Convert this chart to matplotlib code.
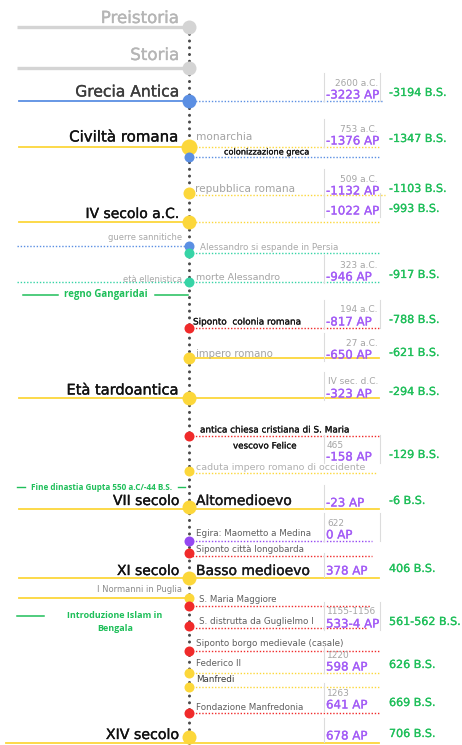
import matplotlib
matplotlib.use("Agg")
import matplotlib.pyplot as plt
import matplotlib.patheffects as pe

# ---------------- data ----------------
node_kind = ["pre", "pre", "greek", "roman", "greek", "roman", "roman", "greek",
             "hellenic", "hellenic", "siponto", "roman", "roman", "siponto", "roman",
             "roman", "islam", "siponto", "roman", "roman", "siponto", "siponto",
             "siponto", "roman", "roman", "siponto", "roman"]
left_labels = ["Preistoria", "Storia", "Grecia Antica", "Civiltà romana", "", "",
               "IV secolo a.C.", "guerre sannitiche", "", "età ellenistica", "", "",
               "Età tardoantica", "", "", "VII secolo", "", "", "XI secolo",
               "I Normanni in Puglia", "", "", "", "", "", "", "XIV secolo"]
right_labels = ["", "", "", "monarchia", "colonizzazione greca", "repubblica romana", "",
                "", "Alessandro si espande in Persia", "morte Alessandro",
                "Siponto  colonia romana", "impero romano", "",
                "antica chiesa cristiana di S. Maria", "caduta impero romano di occidente",
                "Altomedioevo", "Egira: Maometto a Medina", "Siponto città longobarda",
                "Basso medioevo", "", "S. Maria Maggiore", "S. distrutta da Guglielmo I",
                "Siponto borgo medievale (casale)", "Federico II", "Manfredi",
                "Fondazione Manfredonia", ""]
extra_labels = ["vescovo Felice"]

box_date = ["2600 a.C.", "753 a.C.", "509 a.C.", "", "323 a.C.", "194 a.C.", "27 a.C.",
            "IV sec. d.C.", "465", "", "622", "", "1155-1156", "1220", "1263", ""]
box_ap = ["-3223 AP", "-1376 AP", "-1132 AP", "-1022 AP", "-946 AP", "-817 AP", "-650 AP",
          "-323 AP", "-158 AP", "-23 AP", "0 AP", "378 AP", "533-4 AP", "598 AP",
          "641 AP", "678 AP"]
box_bs = ["-3194 B.S.", "-1347 B.S.", "-1103 B.S.", "-993 B.S.", "-917 B.S.", "-788 B.S.",
          "-621 B.S.", "-294 B.S.", "-129 B.S.", "-6 B.S.", "", "406 B.S.", "561-562 B.S.",
          "626 B.S.", "669 B.S.", "706 B.S."]

india_notes = ["regno Gangaridai", "Fine dinastia Gupta 550 a.C/-44 B.S.",
               "Introduzione Islam in\nBengala"]

# ---------------- layout / style ----------------
W, H = 462, 745
node_y = [27, 68, 101, 147, 157, 193, 222, 246, 253, 282, 328, 358, 398, 436, 471,
          507, 541, 553, 578, 598, 606, 626, 651, 673, 687, 713, 737]
left_label_y = [18, 55, 92, 137, None, None, 214, 238, None, 279, None, None, 390, None,
                None, 501, None, None, 571, 590, None, None, None, None, None, None, 735]
right_label_y = [None, None, None, 137, 152, 189, None, None, 247, 277, 322, 354, None,
                 430, 468, 501, 534, 550, 571, None, 599, 621, 644, 664, 680, 707, None]
node_tier = ["big", "big", "big", "xl", "small", "mid", "big", "small", "small", "small",
             "small", "mid", "big", "small", "small", "big", "small", "small", "big",
             "small", "small", "small", "small", "small", "small", "small", "big"]
left_line = ["thick", "thick", "solid", "solid", None, None, "solid", "dot", None, "dot",
             None, None, "solid", None, None, "solid", None, None, "solid", "solid",
             None, None, None, None, None, None, "solid"]
right_line = [None, None, "dot", "dot", "dot", "dot", "dot", None, "dot", "dot", "dot",
              "solid", "solid", "dot", "dot", "solid", "dot", "dot", "solid", None,
              "dot", "dot", "dot", "dot", "dot", "dot", "solid"]
# label style: (fontsize, colour, heavier?)
right_style = [None, None, None, (7.6, "#a3a3a3", 0), (5.9, "#151515", 1),
               (7.6, "#a3a3a3", 0), None, None, (6.3, "#a8a8a8", 0), (6.8, "#a3a3a3", 0),
               (6.4, "#151515", 1), (7.3, "#a3a3a3", 0), None, (6.4, "#151515", 1),
               (6.8, "#b0b0b0", 0), (10.0, "#1a1a1a", 1), (6.3, "#5f5f5f", 0),
               (6.3, "#5f5f5f", 0), (10.0, "#1a1a1a", 1), None, (6.2, "#5f5f5f", 0),
               (6.3, "#5f5f5f", 0), (6.3, "#5f5f5f", 0), (6.3, "#5f5f5f", 0),
               (6.3, "#3a3a3a", 0), (6.3, "#5f5f5f", 0), None]
left_style = [(12.0, "#b5b5b5", 1), (12.0, "#b5b5b5", 1), (11.2, "#3c3c3c", 1),
              (10.8, "#111111", 1), None, None, (10.0, "#111111", 1), (6.0, "#a8a8a8", 0),
              None, (6.0, "#a8a8a8", 0), None, None, (10.5, "#111111", 1), None, None,
              (10.0, "#111111", 1), None, None, (10.0, "#111111", 1), (6.0, "#8a8a8a", 0),
              None, None, None, None, None, None, (10.2, "#111111", 1)]
line_shift = {15: 2, 26: 6, 5: 2, 14: 2, 17: 3, 21: 2}
right_end = {2: 383, 5: 385, 16: 372, 17: 372, 20: 371, 21: 366, 14: 376}
left_start = {26: 6}
right_label_x = {4: 224, 8: 200, 13: 200, 10: 193, 20: 199, 21: 199, 5: 195}

box_y = [95, 141, 191, 211, 277, 322, 355, 394, 457, 503, 535, 571, 624, 667, 705, 736]
box_right = [True, False, False, True, False, True, False, False, True, False, True,
             False, True, False, False, False]
extra_pos = [(233, 446)]

colors = {"pre": "#d4d4d4", "greek": "#5b8fe3", "roman": "#fcd73a", "hellenic": "#36d4a6",
          "siponto": "#f02a2a", "islam": "#9548f2"}
size_px = {"xl": 16, "big": 14, "mid": 12, "small": 10}
SPINE_X = 189
FONT = "DejaVu Sans"
GREEN = "#1fbf5a"
PURPLE = "#a35cf6"


def heavy(col, w=0.25):
    return [pe.withStroke(linewidth=w, foreground=col)]


fig = plt.figure(figsize=(W / 100, H / 100), dpi=100)
ax = fig.add_axes([0, 0, 1, 1])
ax.set_xlim(0, W)
ax.set_ylim(H, 0)
ax.axis("off")

# spine
ax.plot([SPINE_X, SPINE_X], [node_y[0], H], color="#4a4a4a", lw=2.2,
        linestyle=(0, (0.01, 2.2)), dash_capstyle="round", zorder=1)

for i, y in enumerate(node_y):
    c = colors[node_kind[i]]
    ly = y + line_shift.get(i, 0)
    if left_line[i] == "thick":
        ax.plot([17, SPINE_X], [ly, ly], color=c, lw=2.4, solid_capstyle="butt", zorder=2)
    elif left_line[i] == "solid":
        ax.plot([left_start.get(i, 19), SPINE_X], [ly, ly], color=c, lw=1.3, zorder=2)
    elif left_line[i] == "dot":
        ax.plot([17, SPINE_X], [ly, ly], color=c, lw=1.0, linestyle=(0, (1, 1.3)), zorder=2)
    xe = right_end.get(i, 379)
    if right_line[i] == "solid":
        ax.plot([SPINE_X, xe], [ly, ly], color=c, lw=1.3, zorder=2)
    elif right_line[i] == "dot":
        ax.plot([SPINE_X, xe], [ly, ly], color=c, lw=1.0, linestyle=(0, (1, 1.3)), zorder=2)
    ax.plot(SPINE_X, y, "o", ms=size_px[node_tier[i]] * 0.72, color=c, mec="none", zorder=4)

    if left_labels[i]:
        fs, col, hv = left_style[i]
        ax.text(179 if fs > 9 else 182, left_label_y[i], left_labels[i],
                ha="right", va="center", fontsize=fs, color=col, family=FONT,
                path_effects=heavy(col) if hv else None)
    if right_labels[i]:
        fs, col, hv = right_style[i]
        ax.text(right_label_x.get(i, 196), right_label_y[i], right_labels[i], ha="left",
                va="center", fontsize=fs, color=col, family=FONT,
                path_effects=heavy(col, 0.15 if fs < 9 else 0.25) if hv else None)

for lab, (x, y) in zip(extra_labels, extra_pos):
    ax.text(x, y, lab, ha="left", va="center", fontsize=6.3, color="#151515", family=FONT,
            path_effects=heavy("#151515", 0.15))

# boxes
for d, ap, bs, y, rb in zip(box_date, box_ap, box_bs, box_y, box_right):
    top = y - 16 if d else y - 12
    ax.plot([324, 324], [top - 6, y + 6], color="#dcdcdc", lw=0.8, zorder=3)
    if rb:
        ax.plot([380, 380], [top - 6, y + 6], color="#dcdcdc", lw=0.8, zorder=3)
    if d:
        if "a.C" in d or "d.C" in d:
            ax.text(378, y - 12, d, ha="right", va="center", fontsize=6.5,
                    color="#a5a5a5", family=FONT)
        else:
            ax.text(327, y - 12, d, ha="left", va="center", fontsize=6.5,
                    color="#a5a5a5", family=FONT)
    ax.text(326, y, ap, ha="left", va="center", fontsize=8.5, color=PURPLE, family=FONT,
            path_effects=heavy(PURPLE, 0.2))
    if bs:
        ax.text(389, y - 2, bs, ha="left", va="center", fontsize=8.0, color=GREEN,
                family=FONT, path_effects=heavy(GREEN, 0.2))

# India notes (green)
GF = ["Open Sans", "DejaVu Sans"]
ax.text(106, 295, india_notes[0], ha="center", va="center", fontsize=7.0,
        color=GREEN, family=GF, fontweight="bold")
ax.plot([23, 58], [295, 295], color=GREEN, lw=1.1)
ax.plot([155, 188], [295, 295], color=GREEN, lw=1.1)
ax.text(102, 487, india_notes[1], ha="center", va="center", fontsize=5.9,
        color=GREEN, family=GF, fontweight="bold")
ax.plot([17, 25], [487, 487], color=GREEN, lw=1.0)
ax.plot([178, 185], [487, 487], color=GREEN, lw=1.0)
ax.text(115, 622, india_notes[2], ha="center", va="center", fontsize=6.5,
        color=GREEN, family=GF, fontweight="bold", linespacing=1.5)
ax.plot([17, 44], [616, 616], color=GREEN, lw=1.1)

fig.savefig("out.png", dpi=100)
